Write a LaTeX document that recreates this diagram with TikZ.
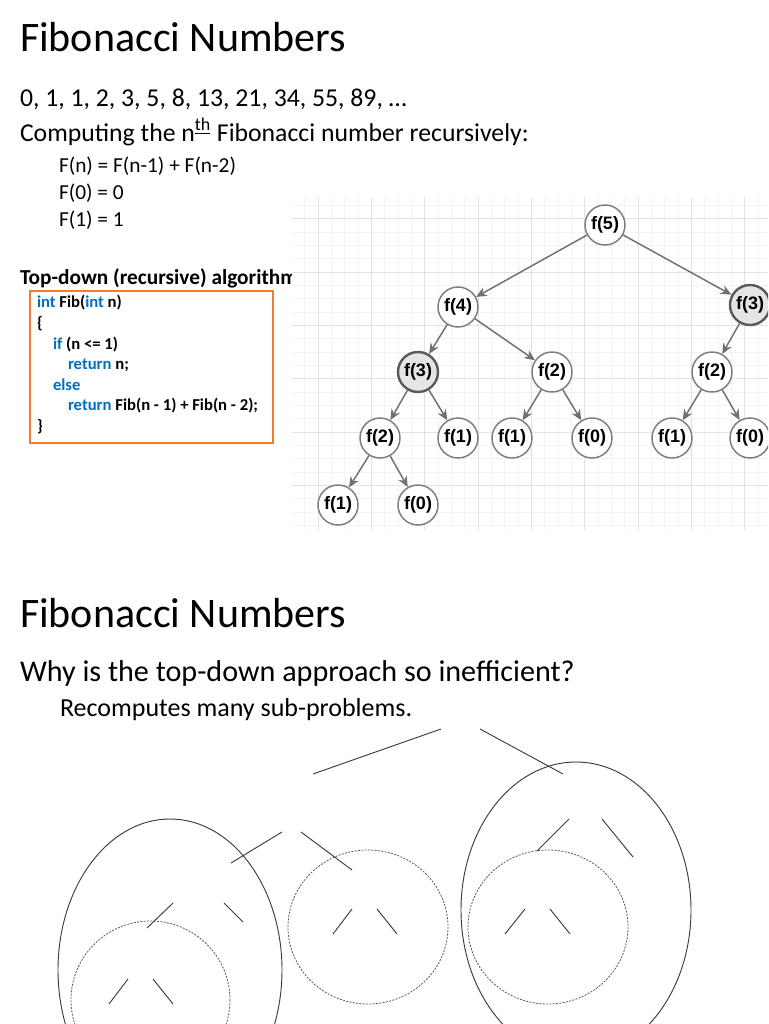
\documentclass[tikz,border=0pt]{standalone}
\usepackage{fontspec}
\setmainfont{Carlito}
\newfontfamily\treefont{Liberation Sans}
\usetikzlibrary{arrows.meta}

\definecolor{codeblue}{RGB}{0,112,192}
\definecolor{boxorange}{RGB}{237,125,49}
\definecolor{edgegray}{RGB}{112,112,112}
\definecolor{ringgray}{RGB}{125,125,125}
\definecolor{sketchgray}{RGB}{60,60,60}
\definecolor{gridminor}{RGB}{243,243,243}
\definecolor{gridmajor}{RGB}{226,226,226}

\newcommand{\codekw}[1]{\textcolor{codeblue}{#1}}

\tikzset{
  slidetext/.style={anchor=base west, inner sep=0pt, outer sep=0pt},
  codeline/.style={slidetext, font=\bfseries\fontsize{12.5}{12.5}\selectfont},
  fibnode/.style={circle, draw=ringgray, line width=1.1pt, fill=white,
    minimum size=30pt, inner sep=0pt,
    font=\treefont\bfseries\fontsize{13.5}{13.5}\selectfont},
  seennode/.style={fibnode, draw=black!65, line width=1.8pt, fill=black!10},
  fibedge/.style={draw=edgegray, line width=1.1pt, -{Stealth[length=8pt,width=7pt]}},
  sketch/.style={draw=sketchgray, line width=0.7pt},
  dashsketch/.style={draw=sketchgray!85, line width=0.6pt, dash pattern=on 1.5pt off 1pt}
}

\begin{document}
\begin{tikzpicture}[x=0.75pt,y=-0.75pt]
  \clip (0,0) rectangle (768,1024);
  \fill[white] (0,0) rectangle (768,1024);

  % Upper slide: text
  \node[slidetext, font=\fontsize{31.5}{31.5}\selectfont] (title1) at (20,52) {Fibonacci Numbers};
  \node[slidetext, font=\fontsize{19.3}{19.3}\selectfont] (seq) at (20,106) {0, 1, 1, 2, 3, 5, 8, 13, 21, 34, 55, 89, …};
  \node[slidetext, font=\fontsize{19.3}{19.3}\selectfont] (task) at (20,141)
    {Computing the n\textsuperscript{\underline{th}} Fibonacci number recursively:};
  \node[slidetext, font=\fontsize{16}{16}\selectfont] (rec) at (59,172) {F(n) = F(n-1) + F(n-2)};
  \node[slidetext, font=\fontsize{16}{16}\selectfont] (base0) at (59,199) {F(0) = 0};
  \node[slidetext, font=\fontsize{16}{16}\selectfont] (base1) at (59,226) {F(1) = 1};
  \node[slidetext, font=\bfseries\fontsize{16}{16}\selectfont] (algo) at (20,284) {Top-down (recursive) algorithm};

  % Code box
  \node[draw=boxorange, line width=0.9pt, minimum width=182.25pt, minimum height=114pt,
    inner sep=0pt] (codebox) at (151.5,367) {};
  \node[codeline] (c1) at (37,307.5) {\codekw{int} Fib(\codekw{int} n)};
  \node[codeline] (c2) at (37,328) {\{};
  \node[codeline] (c3) at (53,349) {\codekw{if} (n <= 1)};
  \node[codeline] (c4) at (68,369.5) {\codekw{return} n;};
  \node[codeline] (c5) at (53,390) {\codekw{else}};
  \node[codeline] (c6) at (68,410.5) {\codekw{return} Fib(n - 1) + Fib(n - 2);};
  \node[codeline] (c7) at (37,431) {\}};

  % Tree panel with grid
  \fill[white] (292,195) rectangle (768,532);
  \begin{scope}
    \clip (292,197) rectangle (768,530);
    \foreach \i in {-2,...,36}
      \draw[gridminor, line width=0.6pt] ({318+13.333*\i},197) -- ({318+13.333*\i},530);
    \foreach \j in {-6,...,19}
      \draw[gridminor, line width=0.6pt] (292,{272+13.333*\j}) -- (768,{272+13.333*\j});
    \foreach \i in {0,...,8}
      \draw[gridmajor, line width=0.6pt] ({318+53.333*\i},197) -- ({318+53.333*\i},530);
    \foreach \j in {-1,...,4}
      \draw[gridmajor, line width=0.6pt] (292,{272+53.333*\j}) -- (768,{272+53.333*\j});
  \end{scope}

  % Tree nodes
  \node[fibnode] (f5) at (605,225) {f(5)};
  \node[fibnode] (f4) at (458,307) {f(4)};
  \node[seennode] (f3r) at (750,305) {f(3)};
  \node[seennode] (f3l) at (418,372) {f(3)};
  \node[fibnode] (f2m) at (552,372) {f(2)};
  \node[fibnode] (f2r) at (712,372) {f(2)};
  \node[fibnode] (f2l) at (380,438) {f(2)};
  \node[fibnode] (f1a) at (458,438) {f(1)};
  \node[fibnode] (f1b) at (512,438) {f(1)};
  \node[fibnode] (f0a) at (592,438) {f(0)};
  \node[fibnode] (f1c) at (672,438) {f(1)};
  \node[fibnode] (f0b) at (750,438) {f(0)};
  \node[fibnode] (f1d) at (338,505) {f(1)};
  \node[fibnode] (f0c) at (418,505) {f(0)};

  % Tree edges
  \foreach \a/\b in {f5/f4, f5/f3r, f4/f3l, f4/f2m, f3r/f2r, f3l/f2l, f3l/f1a,
    f2m/f1b, f2m/f0a, f2r/f1c, f2r/f0b, f2l/f1d, f2l/f0c}
    \draw[fibedge] (\a) -- (\b);

  % Lower slide: text
  \node[slidetext, font=\fontsize{31.5}{31.5}\selectfont] (title2) at (20,627) {Fibonacci Numbers};
  \node[slidetext, font=\fontsize{22.6}{22.6}\selectfont] (why) at (20,681) {Why is the top-down approach so inefficient?};
  \node[slidetext, font=\fontsize{19.5}{19.5}\selectfont] (answer) at (60,716) {Recomputes many sub-problems.};

  % Sketch of the call tree
  \draw[sketch] (313,774) -- (441,729);
  \draw[sketch] (480,729) -- (563,774);

  % Left subtree
  \draw[sketch] (170,970) ellipse (112 and 151);
  \draw[sketch] (173,903) -- (147,928);
  \draw[sketch] (224,903) -- (243,922);
  \draw[dashsketch] (150.5,1000) ellipse (79.5 and 79);
  \draw[sketch] (128,979) -- (109,1004);
  \draw[sketch] (153,979) -- (173,1004);

  % Middle subtree
  \draw[sketch] (282,832) -- (231,863);
  \draw[sketch] (301,832) -- (352,870);
  \draw[dashsketch] (368,927) ellipse (80 and 77);
  \draw[sketch] (352,909) -- (333,934);
  \draw[sketch] (377,909) -- (397,934);

  % Right subtree
  \draw[sketch] (576,910) ellipse (115 and 148);
  \draw[sketch] (569,819) -- (537,851);
  \draw[sketch] (602,819) -- (633,857);
  \draw[dashsketch] (548,927) ellipse (80 and 77);
  \draw[sketch] (525,909) -- (505,934);
  \draw[sketch] (550,909) -- (570,934);
\end{tikzpicture}
\end{document}
